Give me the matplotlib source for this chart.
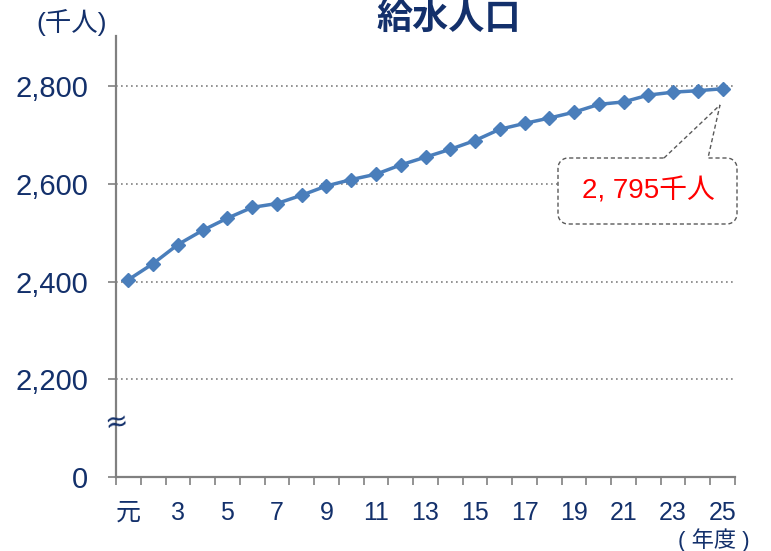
import numpy as np
import matplotlib
matplotlib.use('Agg')
import matplotlib.pyplot as plt
from matplotlib.patches import Polygon
from matplotlib.transforms import IdentityTransform

plt.rcParams['font.family'] = ['Liberation Sans', 'Noto Sans CJK JP', 'DejaVu Sans']

# data (千人), 元年度 .. 25年度
years = list(range(1, 26))
population = [2404, 2437, 2476, 2505, 2530, 2552, 2560, 2577, 2596, 2609,
              2620, 2639, 2655, 2671, 2689, 2712, 2724, 2735, 2747, 2763,
              2768, 2782, 2788, 2791, 2795]
xtick_pos = list(range(1, 26, 2))
xtick_labels = ['元'] + [str(v) for v in range(3, 26, 2)]
ytick_pos = [2000, 2200, 2400, 2600, 2800]
ytick_labels = ['0', '2,200', '2,400', '2,600', '2,800']

navy = '#13306B'
gray = '#808080'
W, H = 771, 551

fig = plt.figure(figsize=(W / 100, H / 100), dpi=100)
ax = fig.add_axes([116 / W, 1 - 477 / H, (735 - 116) / W, (477 - 36) / H])

ax.plot(years, population, color='#4A7EBB', lw=2.5, marker='D', ms=7.5, zorder=3)

ax.set_xlim(0.5, 25.5)
ax.set_ylim(2000, 2903)
ax.set_xticks(xtick_pos)
ax.set_xticklabels(xtick_labels)
ax.set_xticks(np.arange(0.5, 26, 1), minor=True)
ax.set_yticks(ytick_pos)
ax.set_yticklabels(ytick_labels)

ax.tick_params(axis='x', which='major', length=0, pad=17, labelsize=18, labelcolor=navy)
ax.tick_params(axis='x', which='minor', length=6, width=1.2, color=gray, direction='out')
ax.tick_params(axis='y', length=6, width=1.2, color=gray, pad=14, labelsize=21, labelcolor=navy)

for s in ['top', 'right']:
    ax.spines[s].set_visible(False)
for s in ['left', 'bottom']:
    ax.spines[s].set_color(gray)
    ax.spines[s].set_linewidth(1.6)

ax.grid(axis='y', color=gray, linestyle=(0, (1, 2)), lw=1.2)
ax.set_axisbelow(True)

# axis break mark
ax.text(0.5, 2112, '≈', ha='center', va='center', fontsize=20, color=navy,
        rotation=8, family=['DejaVu Sans'])

fig.text(449 / W, 1 - 18 / H, '給水人口', ha='center', va='center', fontsize=26,
         fontweight='bold', color=navy, family=['Noto Sans CJK JP'])
fig.text(72 / W, 1 - 22 / H, '(千人)', ha='center', va='center', fontsize=19, color=navy)
fig.text(714 / W, 1 - 540 / H, '( 年度 )', ha='center', va='center', fontsize=16, color=navy)

# callout box
L, R, T, B, r = 558, 737, 158, 224, 10


def arc(cx, cy, a0, a1):
    a = np.linspace(a0, a1, 8)
    return list(zip(cx + r * np.cos(a), cy + r * np.sin(a)))


pts = [(664, T), (720, 105), (708, T), (R - r, T)]
pts += arc(R - r, T + r, -np.pi / 2, 0)
pts += [(R, B - r)]
pts += arc(R - r, B - r, 0, np.pi / 2)
pts += [(L + r, B)]
pts += arc(L + r, B - r, np.pi / 2, np.pi)
pts += [(L, T + r)]
pts += arc(L + r, T + r, np.pi, 1.5 * np.pi)
pts = [(x, H - y) for x, y in pts]
callout = Polygon(pts, closed=True, facecolor='white', edgecolor='#595959',
                  linestyle=(0, (3, 2)), lw=1, transform=IdentityTransform(), zorder=5)
fig.add_artist(callout)
fig.text(648 / W, 1 - 191 / H, '2, 795千人', ha='center', va='center', fontsize=20,
         color='#FF0000', zorder=6)

fig.savefig('out.png', dpi=100)
